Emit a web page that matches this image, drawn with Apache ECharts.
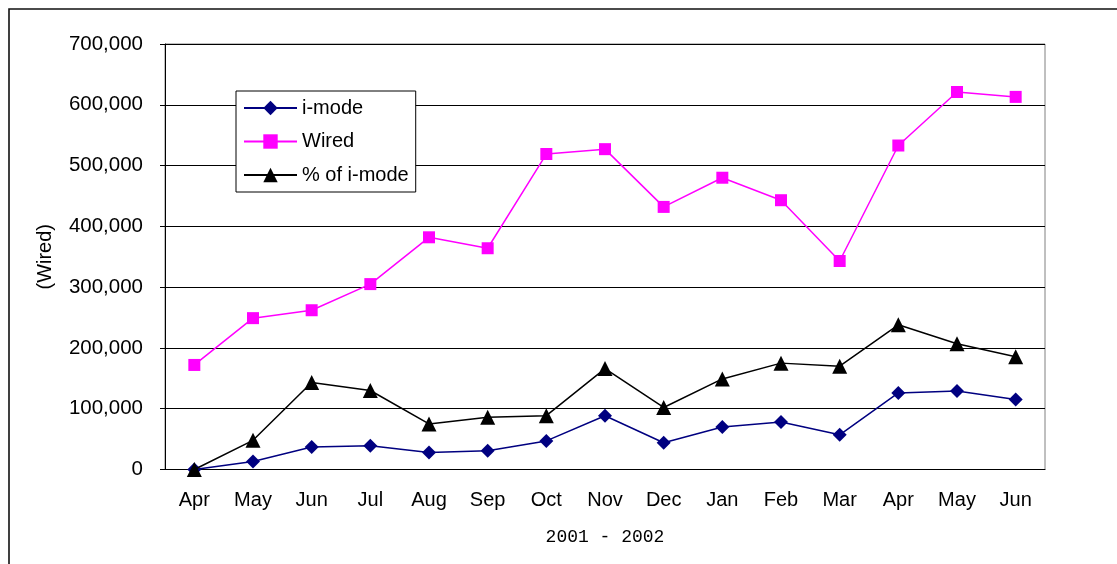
<!DOCTYPE html>
<html><head><meta charset="utf-8">
<script src="https://cdn.jsdelivr.net/npm/echarts@6/dist/echarts.min.js"></script>
<style>html,body{margin:0;padding:0;background:#fff}#c{width:1117px;height:564px}</style>
</head><body><div id="c"></div>
<script>
const categories = ['Apr','May','Jun','Jul','Aug','Sep','Oct','Nov','Dec','Jan','Feb','Mar','Apr','May','Jun'];
const imode = [0, 13000, 37000, 39000, 28000, 31000, 47000, 88500, 44000, 70000, 78000, 57000, 126000, 129000, 115000];
const wired = [172000, 249000, 262000, 305000, 382000, 364000, 519000, 527000, 432000, 480000, 443000, 343000, 533000, 621000, 613000];
const pctImode = [0, 48000, 143000, 130000, 75000, 86000, 88500, 166000, 102000, 149000, 175000, 170000, 238000, 207000, 185500];
const yTicks = {min: 0, max: 700000, interval: 100000};

const font = 'Liberation Sans, Arial, sans-serif';
const chart = echarts.init(document.getElementById('c'));
chart.setOption({
  animation: false,
  backgroundColor: '#fff',
  graphic: [{type:'rect', shape:{x:9, y:9, width:1300, height:800}, style:{fill:'none', stroke:'#111', lineWidth:1.6}, silent:true, z:-10}],
  grid: {left:165, right:72, top:44, bottom:94.5, show:true, borderColor:'#808080', borderWidth:1, backgroundColor:'transparent'},
  legend: {
    left:236, top:91, orient:'vertical', backgroundColor:'#fff', borderColor:'#000', borderWidth:1,
    padding:[7,7,7,7], itemGap:13.5, itemWidth:53, itemHeight:18,
    textStyle:{fontFamily:font, fontSize:20, color:'#000', lineHeight:20},
    data:['i-mode','Wired','% of i-mode']
  },
  xAxis: {
    type:'category', data:categories, boundaryGap:true,
    name:'2001 - 2002', nameLocation:'middle', nameGap:59,
    nameTextStyle:{fontFamily:'Liberation Mono, Courier New, monospace', fontSize:18, color:'#000'},
    axisLine:{lineStyle:{color:'#000', width:1}},
    axisTick:{inside:true, length:5, lineStyle:{color:'#000'}},
    axisLabel:{fontFamily:font, fontSize:20, color:'#000', margin:21, interval:0}
  },
  yAxis: {
    type:'value', min:yTicks.min, max:yTicks.max, interval:yTicks.interval,
    name:'(Wired)', nameLocation:'middle', nameGap:110, nameRotate:90,
    nameTextStyle:{fontFamily:font, fontSize:20, color:'#000'},
    axisLine:{show:true, lineStyle:{color:'#000', width:1}},
    axisTick:{show:true, inside:false, length:5, lineStyle:{color:'#000'}},
    axisLabel:{fontFamily:font, fontSize:20.5, color:'#000', margin:22,
      formatter: v => v.toLocaleString('en-US')},
    splitLine:{show:true, lineStyle:{color:'#000', width:1}}
  },
  series: [
    {name:'i-mode', type:'line', data:imode, symbol:'diamond', symbolSize:14,
     itemStyle:{color:'#000080'}, lineStyle:{color:'#000080', width:1.5}, z:3},
    {name:'Wired', type:'line', data:wired, symbol:'rect', symbolSize:12,
     itemStyle:{color:'#FF00FF'}, lineStyle:{color:'#FF00FF', width:1.5}, z:2},
    {name:'% of i-mode', type:'line', data:pctImode, symbol:'triangle', symbolSize:15,
     itemStyle:{color:'#000'}, lineStyle:{color:'#000', width:1.5}, z:4}
  ]
});
</script></body></html>
